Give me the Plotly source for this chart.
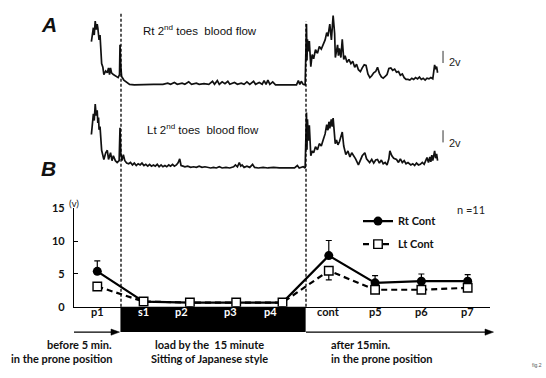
import plotly.graph_objects as go

W, H = 546, 378

# ---------------- Panel A : toe blood-flow recordings (time in min, signal in V)
rt_time_pre = [2.60, 2.68, 2.76, 2.83, 2.91, 2.99, 3.07, 3.12, 3.18, 3.22, 3.30, 3.36, 3.43, 3.53, 3.61, 3.76,
               3.89, 3.99, 4.07, 4.15, 4.23, 4.38, 4.61, 4.77, 4.88, 4.92, 4.98, 5.05, 5.23, 5.44, 5.70]
rt_volt_pre = [7.1, 8.9, 9.4, 8.2, 10.5, 9.1, 10.0, 9.4, 8.0, 7.4, 8.2, 6.0, 3.5, 2.9, 1.7, 2.3,
               2.0, 2.8, 1.7, 2.8, 2.0, 1.7, 1.4, 1.2, 1.7, 6.6, 3.2, 1.4, 0.8, 0.5, 0.1]
rt_time_sit = [6.08, 6.86, 7.63, 8.40, 8.79, 9.02, 9.33, 9.56, 9.95, 10.18, 10.49, 10.72, 11.11, 11.34, 11.73,
               12.12, 12.42, 12.58, 12.81, 12.97, 13.20, 13.43, 13.66, 13.82, 14.20, 14.44, 14.75, 14.98, 15.21,
               15.44, 15.75, 15.91, 16.21, 16.45, 16.60, 16.76, 16.91, 17.07, 17.30, 17.53, 19.23, 19.38, 19.50,
               19.62, 19.77, 19.93]
rt_volt_sit = [0, 0.1, 0.1, 0.1, 0.3, 0.1, 0.4, 0.1, 0.3, 0.1, 0.5, 0.1, 0.3, 0.1, 0.2,
               0.1, 0.6, 0.1, 0.7, 0.1, 0.5, 0.2, 0.6, 0.1, 0.4, 0.1, 0.3, 0.1, 0.5,
               0.1, 0.6, 0.1, 0.4, 0.1, 0.7, 0.1, 0.8, 0.1, 0.5, 0, 0, 0.7, 0.1,
               0.6, 0.1, 0]
rt_time_post = [20.04, 20.08, 20.12, 20.19, 20.27, 20.39, 20.50, 20.62, 20.77, 20.93, 21.08, 21.24, 21.39, 21.55,
                21.68, 21.78, 21.93, 22.06, 22.20, 22.32, 22.38, 22.47, 22.56, 22.63, 22.71, 22.83, 22.94, 23.06,
                23.17, 23.33, 23.48, 23.64, 23.79, 23.95, 24.10, 24.25, 24.41, 24.56, 24.72, 24.87, 25.02, 25.18,
                25.33, 25.49, 25.65, 25.80, 25.95, 26.11, 26.26, 26.42, 26.57, 26.72, 26.88, 27.03, 27.19, 27.34,
                27.50, 27.65, 27.81, 27.96, 28.11, 28.27, 28.42, 28.58, 28.73, 28.89, 29.04, 29.20, 29.35, 29.50,
                29.66, 29.81, 29.97, 30.12, 30.28, 30.43, 30.51, 30.59, 30.67]
rt_volt_post = [10.0, 4.0, 7.5, 5.5, 7.2, 3.0, 5.0, 4.3, 5.8, 5.2, 6.3, 5.9, 6.8, 7.4,
                8.6, 8.0, 10.0, 7.4, 11.4, 8.5, 4.5, 5.4, 6.6, 4.8, 6.0, 4.5, 7.5, 4.2,
                4.8, 3.7, 4.2, 3.5, 3.9, 2.9, 3.4, 2.5, 2.2, 2.8, 3.3, 3.2, 1.8, 1.2,
                1.5, 2.0, 2.2, 2.9, 1.9, 1.3, 1.1, 1.4, 1.7, 2.7, 2.8, 2.4, 2.6, 2.1,
                2.2, 1.6, 1.8, 1.2, 0.9, 0.9, 0.8, 1.1, 0.9, 1.2, 1.0, 1.3, 0.9, 1.1,
                0.8, 1.1, 1.0, 1.2, 1.0, 3.3, 2.6, 3.0, 2.0]

lt_time_pre = [2.60, 2.68, 2.76, 2.83, 2.91, 2.99, 3.07, 3.12, 3.18, 3.22, 3.30, 3.43, 3.53, 3.61, 3.76,
               3.89, 3.99, 4.15, 4.27, 4.38, 4.54, 4.69, 4.85, 4.92, 4.98, 5.08, 5.19, 5.31, 5.46]
lt_volt_pre = [5.5, 7.4, 8.9, 7.8, 10.5, 8.6, 9.5, 7.4, 8.3, 6.3, 6.8, 2.9, 2.2, 1.4, 2.5,
               2.9, 1.4, 2.5, 1.2, 2.0, 1.2, 0.9, 1.2, 6.6, 2.5, 1.2, 2.2, 1.2, 0.8]
lt_time_sit = [5.62, 5.77, 5.93, 6.08, 6.24, 6.39, 6.55, 6.70, 6.86, 7.01, 7.17, 7.32, 7.47, 7.63, 7.78,
               7.94, 8.09, 8.25, 8.40, 8.56, 8.71, 8.87, 9.02, 9.18, 9.33, 9.49, 9.64, 9.76, 9.87, 10.03,
               10.18, 10.41, 10.65, 10.88, 11.11, 11.34, 11.57, 11.81, 12.04, 12.27, 12.50, 12.73, 12.97,
               13.20, 13.51, 13.82, 14.13, 14.28, 14.44, 14.59, 14.71, 14.82, 14.98, 15.21, 15.44, 15.67,
               15.83, 16.14, 16.52, 16.91, 17.37, 17.84, 18.45, 19.07, 19.30, 19.45, 19.77, 19.93]
lt_volt_sit = [0.7, 0.9, 0.5, 0.8, 0.4, 0.7, 0.5, 0.8, 0.4, 0.6, 0.3, 0.6, 0.3, 0.5, 0.3,
               0.6, 0.2, 0.5, 0.2, 0.4, 0.2, 0.5, 0.3, 0.6, 0.3, 0.5, 0.9, 1.5, 0.4, 0.3,
               0.2, 0.3, 0.1, 0.2, 0.1, 0.3, 0.1, 0.2, 0.1, 0.0, 0.1, 0.0, 0.2,
               0.0, 0.1, 0.0, 0.2, 0.5, 0.2, 0.9, 0.3, 0.5, 0.1, 0.3, 0.1, 0.6,
               0.1, 0.0, 0.1, 0.0, 0.1, 0.0, 0.0, 0.0, 0.4, 0.0, 0.2, 0.0]
lt_time_post = [20.04, 20.08, 20.12, 20.19, 20.27, 20.39, 20.50, 20.62, 20.77, 20.93, 21.08, 21.24, 21.39, 21.55,
                21.68, 21.78, 21.86, 21.93, 22.05, 22.12, 22.20, 22.28, 22.37, 22.47, 22.59, 22.71, 22.83, 22.94,
                23.06, 23.23, 23.40, 23.56, 23.71, 23.87, 24.02, 24.25, 24.41, 24.56, 24.77, 24.91, 25.16, 25.33,
                25.49, 25.65, 25.80, 25.95, 26.11, 26.26, 26.42, 26.57, 26.72, 26.80, 26.96, 27.11, 27.34, 27.50,
                27.65, 27.81, 27.96, 28.11, 28.27, 28.50, 28.66, 28.81, 28.96, 29.12, 29.27, 29.43, 29.58, 29.74,
                29.81, 29.93, 30.04, 30.12, 30.20, 30.28, 30.35, 30.43, 30.51, 30.59, 30.67]
lt_volt_post = [9.1, 3.0, 8.0, 4.5, 7.0, 2.0, 2.8, 2.5, 3.5, 3.0, 4.0, 3.6, 4.6, 5.6,
                7.1, 6.2, 7.6, 6.5, 8.0, 6.8, 8.2, 6.5, 4.0, 4.6, 3.8, 4.3, 5.2, 5.9,
                3.6, 2.2, 2.8, 1.8, 2.5, 2.0, 1.5, 0.5, 1.2, 2.0, 2.5, 1.5, 0.9, 1.4,
                0.8, 1.3, 1.4, 0.8, 1.3, 0.7, 0.9, 0.5, 1.5, 2.8, 2.0, 1.6, 1.4, 0.9,
                1.5, 0.9, 1.2, 0.7, 0.9, 0.5, 0.7, 0.4, 0.8, 0.5, 0.6, 0.9, 0.6, 1.3,
                1.7, 0.9, 1.8, 1.0, 2.1, 1.2, 2.4, 2.8, 1.6, 2.3, 1.2]

rt_bar_volts = [3.6, 5.6]          # "2v" calibration bars
lt_bar_volts = [4.2, 6.2]
bar_time = 31.11
period_bounds = [5, 20]            # minutes: start / end of sitting load

# ---------------- Panel B : mean values
categories = ["p1", "s1", "p2", "p3", "p4", "cont", "p5", "p6", "p7"]
rt_mean = [5.4, 0.8, 0.65, 0.65, 0.65, 7.8, 3.65, 3.9, 3.9]
rt_err_up = [1.6, None, None, None, None, 2.3, 1.1, 1.1, 1.0]
rt_err_dn = [0, None, None, None, None, 0, 0, 0, 0]
lt_mean = [3.1, 0.8, 0.65, 0.65, 0.65, 5.5, 2.6, 2.6, 2.9]
lt_err_up = [None, None, None, None, None, 0.5, None, None, None]
lt_err_dn = [None, None, None, None, None, 1.4, None, None, None]
y_ticks = [0, 5, 10, 15]


def px(x):
    return x / W


def py(y):
    return 1 - y / H


label_shift = [0, 0, -8, -6, -12, 0, 0, 0, 0]
BFONT = dict(family="Lato", size=11, color="#111", weight=700)
AFONT = dict(family="Liberation Sans", size=11.5, color="#111")

fig = go.Figure()

fig.add_trace(go.Scatter(x=rt_time_pre + rt_time_sit + rt_time_post,
                         y=rt_volt_pre + rt_volt_sit + rt_volt_post,
                         xaxis="x", yaxis="y", mode="lines",
                         line=dict(color="#111", width=1.7), showlegend=False, hoverinfo="skip"))
fig.add_trace(go.Scatter(x=lt_time_pre + lt_time_sit + lt_time_post,
                         y=lt_volt_pre + lt_volt_sit + lt_volt_post,
                         xaxis="x", yaxis="y2", mode="lines",
                         line=dict(color="#111", width=1.7), showlegend=False, hoverinfo="skip"))

fig.add_trace(go.Scatter(x=categories, y=rt_mean, xaxis="x2", yaxis="y3", name="Rt Cont",
                         mode="lines+markers", legendgroup="rt",
                         line=dict(color="black", width=2.2),
                         marker=dict(symbol="circle", size=9, color="black"),
                         error_y=dict(type="data", symmetric=False, array=rt_err_up, arrayminus=rt_err_dn,
                                      color="black", thickness=1.2, width=3)))
fig.add_trace(go.Scatter(x=categories, y=lt_mean, xaxis="x2", yaxis="y3", name="Lt Cont",
                         mode="lines+markers", legendgroup="lt",
                         line=dict(color="black", width=2.2, dash="6px,4px"),
                         marker=dict(symbol="square", size=8.5, color="white",
                                     line=dict(color="black", width=1.4)),
                         error_y=dict(type="data", symmetric=False, array=lt_err_up, arrayminus=lt_err_dn,
                                      color="black", thickness=1.2, width=3)))

AY = 336.7   # time-line arrow level (px)
shapes = [
    dict(type="rect", xref="x2", yref="paper", x0=0.5, x1=4.5, y0=py(AY), y1=py(310.5),
         fillcolor="black", line=dict(width=0), layer="below"),
    dict(type="line", xref="x", yref="paper", x0=period_bounds[0], x1=period_bounds[0],
         y0=py(310.5), y1=py(7), line=dict(color="black", width=1.3, dash="3px,2px")),
    dict(type="line", xref="x", yref="paper", x0=period_bounds[1], x1=period_bounds[1],
         y0=py(310.5), y1=py(15), line=dict(color="black", width=1.3, dash="3px,2px")),
    dict(type="line", xref="x", yref="y", x0=bar_time, x1=bar_time,
         y0=rt_bar_volts[0], y1=rt_bar_volts[1], line=dict(color="#333", width=1)),
    dict(type="line", xref="x", yref="y2", x0=bar_time, x1=bar_time,
         y0=lt_bar_volts[0], y1=lt_bar_volts[1], line=dict(color="#333", width=1)),
    # time-line arrows
    dict(type="line", xref="paper", yref="paper", x0=px(74), x1=px(113), y0=py(AY), y1=py(AY),
         line=dict(color="black", width=1.3)),
    dict(type="path", xref="paper", yref="paper",
         path=f"M {px(111)},{py(AY - 3.2)} L {px(119.5)},{py(AY)} L {px(111)},{py(AY + 3.2)} Z",
         fillcolor="black", line=dict(color="black", width=0.5)),
    dict(type="line", xref="paper", yref="paper", x0=px(306), x1=px(487), y0=py(AY), y1=py(AY),
         line=dict(color="black", width=1.3)),
    dict(type="path", xref="paper", yref="paper",
         path=f"M {px(485)},{py(AY - 3.2)} L {px(493.5)},{py(AY)} L {px(485)},{py(AY + 3.2)} Z",
         fillcolor="black", line=dict(color="black", width=0.5)),
]

ann = []


def text(x, y, t, font, xanchor="center", yanchor="middle", **kw):
    ann.append(dict(x=x, y=y, xref="paper", yref="paper", text=t, showarrow=False,
                    xanchor=xanchor, yanchor=yanchor, font=font, **kw))


BIG = dict(family="Liberation Sans", size=21, color="#111", weight=700, style="italic")
text(px(39), py(18), "A", BIG, xanchor="left")
text(px(39), py(167.5), "B", BIG, xanchor="left")
text(px(200), py(24), "Rt 2<sup>nd</sup> toes\u00a0 blood flow", AFONT)
text(px(203), py(126), "Lt 2<sup>nd</sup> toes\u00a0 blood flow", AFONT)
text(px(447), py(57), "2v", dict(family="Liberation Sans", size=11, color="#222"), xanchor="left")
text(px(447), py(141), "2v", dict(family="Liberation Sans", size=11, color="#222"), xanchor="left")
text(px(74), py(203), "(v)", dict(family="Lato", size=10, color="#222"))
text(px(471), py(209.5), "n =11", dict(family="Lato", size=11, color="#222"))
text(px(113.5), py(350), "before 5 min.", BFONT, xanchor="right")
text(px(114.5), py(364), "in the prone position", BFONT, xanchor="right")
text(px(209.5), py(350), "load by the\u00a0 15 minute", BFONT)
text(px(209.5), py(364), "Sitting of Japanese style", BFONT)
text(px(329), py(350), "after 15min.", BFONT, xanchor="left")
text(px(329), py(364), "in the prone position", BFONT, xanchor="left")
text(px(544), py(371), "fig.2", dict(family="Liberation Sans", size=5, color="#555"), xanchor="right")

for i, c in enumerate(categories):
    col = "white" if 1 <= i <= 4 else "#111"
    ann.append(dict(x=c, y=py(324.5), xref="x2", yref="paper", text=c, showarrow=False,
                    xshift=label_shift[i], font=dict(family="Lato", size=11, color=col, weight=700)))

fig.update_layout(
    width=W, height=H, margin=dict(l=0, r=0, t=0, b=0),
    paper_bgcolor="white", plot_bgcolor="rgba(0,0,0,0)",
    xaxis=dict(domain=[0, 1], range=[-4.811, 39.46], visible=False, fixedrange=True),
    yaxis=dict(domain=[0, 1], range=[-47.19, 12.81], visible=False, fixedrange=True),
    yaxis2=dict(domain=[0, 1], range=[-33.54, 26.46], visible=False, overlaying="y", anchor="x"),
    xaxis2=dict(domain=[px(74), px(490)], range=[-0.503, 8.482], anchor="y3", type="category",
                categoryorder="array", categoryarray=categories,
                showline=True, linecolor="black", linewidth=1.3, showticklabels=False,
                ticks="", showgrid=False, zeroline=False),
    yaxis3=dict(domain=[py(310.5), py(208.5)], range=[0, 15], anchor="x2",
                showline=True, linecolor="black", linewidth=1.3, ticks="inside", ticklen=4,
                tickwidth=1.3, tickcolor="black", tickvals=y_ticks, showgrid=False, zeroline=False,
                tickfont=dict(family="Lato", size=11, color="#111", weight=700), ticklabelstandoff=6),
    legend=dict(x=px(358), y=py(206.7), xanchor="left", yanchor="top", bgcolor="rgba(0,0,0,0)",
                font=dict(family="Lato", size=11, color="#111", weight=700),
                itemwidth=30, tracegroupgap=4, traceorder="grouped"),
    shapes=shapes, annotations=ann, showlegend=True,
)

fig.write_html("out.html", config={"displayModeBar": False},
               post_script="document.body.style.margin='0';document.body.style.padding='0';")
